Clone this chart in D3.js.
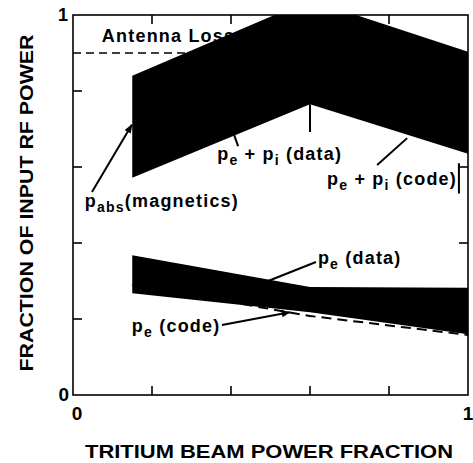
<!DOCTYPE html>
<html>
<head>
<meta charset="utf-8">
<script src="https://cdn.jsdelivr.net/npm/d3@7"></script>
<style>
  body { margin: 0; background: #fff; }
  text { font-family: "Liberation Sans", Arial, sans-serif; font-weight: bold; fill: #000; }
</style>
</head>
<body>
<div id="chart"></div>
<script>
// beam fraction where the bands were evaluated
const beamFrac = [0.15, 0.6, 1.0];
// pe + pi (data) band
const sumDataHi = [0.84, 1.04, 0.903];
const sumDataLo = [0.572, 0.765, 0.635];
// pe (data) band
const peDataHi = [0.368, 0.284, 0.282];
const peDataLo = [0.268, 0.218, 0.16];
// pe (code) dashed curve
const peCode = [0.29, 0.208, 0.158];
const antennaLoss = 0.9;
const tickVals = [0.2, 0.4, 0.6, 0.8];

const W = 473, H = 463;
const svg = d3.select("#chart").append("svg").attr("width", W).attr("height", H);

const x = d3.scaleLinear().domain([0, 1]).range([73, 468]);
const y = d3.scaleLinear().domain([0, 1]).range([395, 15]);

// arrow head
svg.append("defs").append("marker")
  .attr("id", "arrow")
  .attr("markerUnits", "userSpaceOnUse")
  .attr("viewBox", "0 -5 10 10")
  .attr("refX", 9)
  .attr("refY", 0)
  .attr("markerWidth", 11)
  .attr("markerHeight", 9)
  .attr("orient", "auto")
  .append("path")
  .attr("d", "M0,-4L10,0L0,4Z")
  .attr("fill", "#000");

svg.select("defs").append("clipPath").attr("id", "plot")
  .append("rect")
  .attr("x", x(0)).attr("y", y(1))
  .attr("width", x(1) - x(0)).attr("height", y(0) - y(1));

const g = svg.append("g");
const plot = g.append("g").attr("clip-path", "url(#plot)");

// antenna loss level + label (the band sits on top of them)
plot.append("line")
  .attr("x1", x(0)).attr("x2", x(1))
  .attr("y1", y(antennaLoss)).attr("y2", y(antennaLoss))
  .attr("stroke", "#000").attr("stroke-width", 2)
  .attr("stroke-dasharray", "8,5");

g.append("text")
  .attr("x", x(0.073)).attr("y", y(0.929))
  .attr("font-size", 18).attr("letter-spacing", 1.2)
  .text("Antenna Loss");

const area = (hi, lo) => d3.area()
  .x((d, i) => x(beamFrac[i]))
  .y0((d, i) => y(lo[i]))
  .y1((d, i) => y(hi[i]));

plot.append("path").datum(beamFrac).attr("d", area(sumDataHi, sumDataLo)).attr("fill", "#000");

const line = d3.line().x((d, i) => x(beamFrac[i])).y(d => y(d));
plot.append("path").datum(peCode).attr("d", line)
  .attr("fill", "none").attr("stroke", "#000").attr("stroke-width", 2)
  .attr("stroke-dasharray", "10,6");

plot.append("path").datum(beamFrac).attr("d", area(peDataHi, peDataLo)).attr("fill", "#000");

// frame
g.append("rect")
  .attr("x", x(0)).attr("y", y(1))
  .attr("width", x(1) - x(0)).attr("height", y(0) - y(1))
  .attr("fill", "none").attr("stroke", "#000").attr("stroke-width", 1.6);

// inward ticks on all four sides
const tl = 9;
tickVals.forEach(t => {
  g.append("line").attr("x1", x(t)).attr("x2", x(t)).attr("y1", y(0)).attr("y2", y(0) - tl);
  g.append("line").attr("x1", x(t)).attr("x2", x(t)).attr("y1", y(1)).attr("y2", y(1) + tl);
  g.append("line").attr("x1", x(0)).attr("x2", x(0) + tl).attr("y1", y(t)).attr("y2", y(t));
  g.append("line").attr("x1", x(1)).attr("x2", x(1) - tl).attr("y1", y(t)).attr("y2", y(t));
});
g.selectAll("line").attr("stroke", "#000").attr("stroke-width", 1.6);

// end labels of the axes
g.append("text").attr("x", 68).attr("y", y(1) + 6).attr("text-anchor", "end").attr("font-size", 18).text("1");
g.append("text").attr("x", 69).attr("y", y(0) + 6).attr("text-anchor", "end").attr("font-size", 19).text("0");
g.append("text").attr("x", x(0) + 4).attr("y", 420).attr("text-anchor", "middle").attr("font-size", 19).text("0");
g.append("text").attr("x", x(1)).attr("y", 420).attr("text-anchor", "middle").attr("font-size", 19).text("1");

// axis titles
g.append("text")
  .attr("x", 269).attr("y", 458)
  .attr("text-anchor", "middle").attr("font-size", 18)
  .attr("textLength", 368).attr("lengthAdjust", "spacingAndGlyphs")
  .text("TRITIUM BEAM POWER FRACTION");

g.append("text")
  .attr("transform", "translate(33,203) rotate(-90)")
  .attr("text-anchor", "middle").attr("font-size", 19)
  .attr("textLength", 337).attr("lengthAdjust", "spacingAndGlyphs")
  .text("FRACTION OF INPUT RF POWER");

// labels with subscripts: plain strings are normal text, [str] is a subscript
function label(px, py, parts) {
  const t = g.append("text")
    .attr("x", x(px)).attr("y", y(py))
    .attr("font-size", 18).attr("letter-spacing", 1.2);
  let shift = 0;
  parts.forEach(p => {
    if (Array.isArray(p)) {
      t.append("tspan").attr("font-size", 14).attr("dy", 5 - shift).text(p[0]);
      shift = 5;
    } else {
      t.append("tspan").attr("dy", -shift).text(p);
      shift = 0;
    }
  });
}

label(0.030, 0.495, ["p", ["abs"], "(magnetics)"]);
label(0.365, 0.618, ["p", ["e"], " + p", ["i"], " (data)"]);
label(0.643, 0.553, ["p", ["e"], " + p", ["i"], " (code)"]);
label(0.620, 0.345, ["p", ["e"], " (data)"]);
label(0.149, 0.166, ["p", ["e"], " (code)"]);

// pointers
function pointer(a, b, arrow) {
  const l = g.append("line")
    .attr("x1", x(a[0])).attr("y1", y(a[1]))
    .attr("x2", x(b[0])).attr("y2", y(b[1]))
    .attr("stroke", "#000").attr("stroke-width", 2);
  if (arrow) l.attr("marker-end", "url(#arrow)");
}
pointer([0.048, 0.534], [0.149, 0.711], true);
pointer([0.418, 0.655], [0.408, 0.684], false);
pointer([0.6, 0.692], [0.6, 0.765], false);
pointer([0.770, 0.605], [0.846, 0.676], false);
pointer([0.977, 0.61], [0.977, 0.53], false);
pointer([0.615, 0.35], [0.494, 0.30], false);
pointer([0.377, 0.184], [0.549, 0.218], true);
</script>
</body>
</html>
